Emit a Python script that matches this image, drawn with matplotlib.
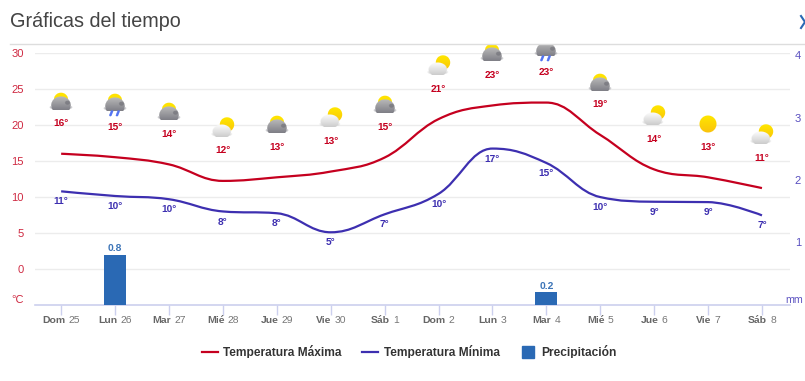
import numpy as np
import matplotlib
matplotlib.use("Agg")
import matplotlib.pyplot as plt
from matplotlib.path import Path
from matplotlib.patches import PathPatch, Rectangle
from matplotlib.lines import Line2D
from matplotlib.offsetbox import OffsetImage, AnnotationBbox

plt.rcParams['font.family'] = ['Liberation Sans', 'DejaVu Sans']
plt.rcParams['text.hinting'] = 'no_autohint'

days = ["Dom", "Lun", "Mar", "Mié", "Jue", "Vie", "Sáb", "Dom", "Lun", "Mar", "Mié", "Jue", "Vie", "Sáb"]
dates = ["25", "26", "27", "28", "29", "30", "1", "2", "3", "4", "5", "6", "7", "8"]
tmax = [15.98, 15.5, 14.5, 12.2, 12.7, 13.5, 15.45, 20.8, 22.7, 23.1, 18.6, 13.8, 12.7, 11.2]
tmin = [10.75, 10.1, 9.65, 7.95, 7.7, 5.05, 7.55, 10.4, 16.7, 14.7, 9.95, 9.3, 9.25, 7.4]
tmax_labels = [16, 15, 14, 12, 13, 13, 15, 21, 23, 23, 19, 14, 13, 11]
tmin_labels = [11, 10, 10, 8, 8, 5, 7, 10, 17, 15, 10, 9, 9, 7]
rain = [0, 0.8, 0, 0, 0, 0, 0, 0, 0, 0.2, 0, 0, 0, 0]
icons = ["cloud", "rain", "cloud", "partly", "cloud", "partly", "cloud", "partly", "cloud", "rain", "cloud", "partly", "sun", "partly"]
temp_ticks = [0, 5, 10, 15, 20, 25, 30]
rain_ticks = [1, 2, 3, 4]

RED = "#c5001f"
BLUE = "#3d2fb0"
BAR = "#2a69b4"
W, H = 805, 381


def blob(xx, yy, cx, cy, rx, ry):
    # soft edged ellipse mask, one pixel of antialias
    d = np.sqrt(((xx - cx) / rx) ** 2 + ((yy - cy) / ry) ** 2)
    return np.clip((1 - d) * min(rx, ry) + 0.5, 0, 1)


def over(img, col, mask):
    # alpha composite, col is one colour or an array of them
    col = np.broadcast_to(np.asarray(col, dtype=float), img[..., :3].shape)
    a = mask[..., None]
    b = img[..., 3:] * (1 - a)
    out = a + b
    img[..., :3] = (col * a + img[..., :3] * b) / np.maximum(out, 1e-6)
    img[..., 3:] = out


def grad(yy, y0, y1, top, bottom):
    t = np.clip((yy - y0) / (y1 - y0), 0, 1)[..., None]
    return np.array(top) * (1 - t) + np.array(bottom) * t


def make_icon(kind):
    # small bitmap weather symbol, 1 array pixel = 1 output pixel
    n = 26
    yy, xx = np.mgrid[0:n, 0:n] + 0.5
    img = np.zeros((n, n, 4))
    if kind == "sun":
        over(img, grad(yy, 4, 21, (1.0, 0.90, 0.0), (0.98, 0.76, 0.05)), blob(xx, yy, 13, 12, 8.5, 8.5))
    elif kind == "partly":
        over(img, grad(yy, 2, 15, (1.0, 0.90, 0.0), (0.98, 0.78, 0.03)), blob(xx, yy, 17, 8.5, 7.2, 7.2))
        m = np.maximum(blob(xx, yy, 11.8, 15.5, 9.2, 7), blob(xx, yy, 11.8, 18, 9.4, 3)) * (yy <= 20.7)
        over(img, grad(yy, 9, 21, (0.98, 0.98, 0.98), (0.80, 0.80, 0.80)), m)
    else:
        bottom = 18.7 if kind == "rain" else 20.7
        top = bottom - 17
        over(img, (1.0, 0.89, 0.0), blob(xx, yy, 13, top + 6.5, 7, 6.5))
        flat = yy <= bottom
        m = np.maximum(blob(xx, yy, 13, bottom - 4.5, 9.8, 8.8), blob(xx, yy, 13, bottom - 2.5, 10.2, 3)) * flat
        over(img, grad(yy, bottom - 13, bottom, (0.72, 0.72, 0.72), (0.50, 0.50, 0.53)), m)
        over(img, (0.42, 0.42, 0.45), blob(xx, yy, 19.5, bottom - 7, 2.5, 2) * 0.6)
        if kind == "rain":
            for dx in (9.2, 15.8):
                for k in range(5):
                    over(img, (0.32, 0.45, 0.95), blob(xx, yy, dx + 0.8 - k * 0.4, bottom + 0.6 + k, 1.2, 1.0))
    return img


def spline_path(xs, ys):
    # same bezier smoothing as a highcharts spline
    verts = [(xs[0], ys[0])]
    codes = [Path.MOVETO]
    n = len(xs)
    right = (xs[0], ys[0])
    for i in range(1, n):
        x, y = xs[i], ys[i]
        if i < n - 1:
            lx = (1.5 * x + xs[i - 1]) / 2.5
            ly = (1.5 * y + ys[i - 1]) / 2.5
            rx = (1.5 * x + xs[i + 1]) / 2.5
            ry = (1.5 * y + ys[i + 1]) / 2.5
            corr = (ry - ly) * (rx - x) / (rx - lx) + y - ry
            ly += corr
            ry += corr
            if ly > max(ys[i - 1], y):
                ly = max(ys[i - 1], y)
                ry = 2 * y - ly
            elif ly < min(ys[i - 1], y):
                ly = min(ys[i - 1], y)
                ry = 2 * y - ly
            if ry > max(y, ys[i + 1]):
                ry = max(y, ys[i + 1])
                ly = 2 * y - ry
            elif ry < min(y, ys[i + 1]):
                ry = min(y, ys[i + 1])
                ly = 2 * y - ry
        else:
            lx, ly, rx, ry = x, y, x, y
        verts += [right, (lx, ly), (x, y)]
        codes += [Path.CURVE4, Path.CURVE4, Path.CURVE4]
        right = (rx, ry)
    return Path(verts, codes)


fig = plt.figure(figsize=(W / 100, H / 100), dpi=100)
ax = fig.add_axes([35 / W, 1 - 304.5 / H, 755 / W, (304.5 - 53) / H])
x = np.arange(len(days))
ax.set_xlim(-0.485, 13.52)
ax.set_ylim(-5, 30)

for spine in ["top", "left", "right"]:
    ax.spines[spine].set_visible(False)
ax.spines["bottom"].set_color("#ccd0ee")
ax.spines["bottom"].set_linewidth(1.2)
ax.set_yticks(temp_ticks)
ax.tick_params(axis="y", length=0, pad=8, labelsize=8, labelcolor="#cf2b43")
ax.grid(axis="y", color="#ececec", linewidth=1)
ax.set_axisbelow(True)
ax.set_xticks(x)
ax.set_xticklabels([])
ax.tick_params(axis="x", length=7.5, width=1, color="#ccd0ee")

# bold day plus plain date, centred together on the tick
renderer = fig.canvas.get_renderer()
for i in x:
    t1 = ax.annotate(days[i], (i, 0), xycoords=("data", "axes fraction"), xytext=(0, -13.3), textcoords="offset points",
                     ha="left", va="baseline", fontsize=7.5, fontweight="bold", color="#666666")
    t2 = ax.annotate(dates[i], (i, 0), xycoords=("data", "axes fraction"), xytext=(0, -13.3), textcoords="offset points",
                     ha="left", va="baseline", fontsize=7.5, color="#777777")
    w1 = t1.get_window_extent(renderer).width * 0.72
    w2 = t2.get_window_extent(renderer).width * 0.72
    gap = 2.2
    start = -(w1 + gap + w2) / 2
    t1.set_position((start, -13.3))
    t2.set_position((start + w1 + gap, -13.3))

ax.text(-0.0146, 0.016, "°C", transform=ax.transAxes, ha="right", va="center", fontsize=8, color="#cf2b43")
ax.text(1.017, 0.016, "mm", transform=ax.transAxes, ha="right", va="center", fontsize=7.6, color="#5a50c0", clip_on=False)

ax2 = ax.twinx()
ax2.set_ylim(0, 4.035)
ax2.set_yticks(rain_ticks)
ax2.set_xlim(ax.get_xlim())
for spine in ax2.spines.values():
    spine.set_visible(False)
ax2.tick_params(axis="y", length=0, pad=3.5, labelsize=8, labelcolor="#5a50c0")
ax2.bar(x, rain, width=0.41, color=BAR, zorder=2)
for i, r in enumerate(rain):
    if r > 0:
        ax2.annotate(str(r), (i, r), xytext=(0, 1), textcoords="offset points", ha="center", va="bottom",
                     fontsize=7.4, fontweight="bold", color="#3d75b8")

# lines and labels go on the top axes so they stay over the bars
ax2.set_zorder(ax.get_zorder() + 1)
line_tr = ax.transData
ax2.add_patch(PathPatch(spline_path(list(x), tmax), fill=False, edgecolor=RED, linewidth=1.6, transform=line_tr, zorder=3))
ax2.add_patch(PathPatch(spline_path(list(x), tmin), fill=False, edgecolor=BLUE, linewidth=1.6, transform=line_tr, zorder=3))

# clip icons at the rule below the title
clip = Rectangle((0, 0), 1, 1 - 43.5 / H, transform=fig.transFigure)
for i in x:
    ax2.annotate(f"{tmax_labels[i]}°", (i, tmax[i]), xycoords=line_tr, xytext=(0, 21.6), textcoords="offset points",
                 ha="center", va="center", fontsize=7.2, fontweight="bold", color=RED, annotation_clip=False)
    ax2.annotate(f"{tmin_labels[i]}°", (i, tmin[i]), xycoords=line_tr, xytext=(0, -7.6), textcoords="offset points",
                 ha="center", va="center", fontsize=7.2, fontweight="bold", color=BLUE, annotation_clip=False)
    icon = OffsetImage(make_icon(icons[i]), zoom=1, resample=True, dpi_cor=False)
    box = AnnotationBbox(icon, (i, tmax[i]), xycoords=line_tr, xybox=(0, 37.5), boxcoords="offset points",
                         frameon=False, pad=0, annotation_clip=False, zorder=4)
    ax2.add_artist(box)
    icon.image.set_clip_path(clip)

# header
fig.text(10 / W, 1 - 21.5 / H, "Gráficas del tiempo", fontsize=14.35, color="#444444", ha="left", va="center")
fig.add_artist(Line2D([10 / W, 1], [1 - 43.5 / H, 1 - 43.5 / H], color="#dddddd", linewidth=1))
fig.add_artist(Line2D([801 / W, 805 / W, 801 / W], [1 - 16 / H, 1 - 22 / H, 1 - 28 / H], color="#2a69b4", linewidth=1.5))

# legend
leg_y = 1 - 352 / H
fig.add_artist(Line2D([202 / W, 218 / W], [leg_y, leg_y], color=RED, linewidth=1.6))
fig.text(223 / W, leg_y, "Temperatura Máxima", fontsize=8.65, fontweight="bold", color="#333333", va="center")
fig.add_artist(Line2D([362 / W, 378 / W], [leg_y, leg_y], color=BLUE, linewidth=1.6))
fig.text(384 / W, leg_y, "Temperatura Mínima", fontsize=8.65, fontweight="bold", color="#333333", va="center")
fig.add_artist(Rectangle((522 / W, 1 - 357.5 / H), 12 / W, 12 / H, transform=fig.transFigure, color=BAR))
fig.text(541.5 / W, leg_y, "Precipitación", fontsize=8.65, fontweight="bold", color="#333333", va="center")

fig.savefig("out.png", dpi=100)
